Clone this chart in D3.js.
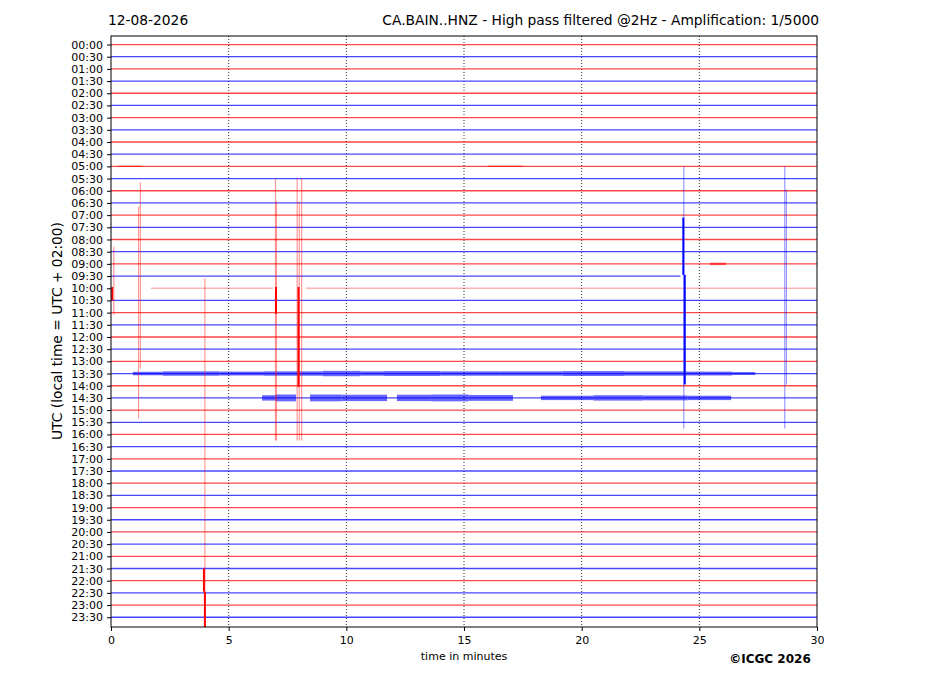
<!DOCTYPE html>
<html>
<head>
<meta charset="utf-8">
<script src="https://cdn.jsdelivr.net/npm/d3@7"></script>
<style>
  body { margin: 0; background: #fff; }
  text { font-family: "DejaVu Sans", sans-serif; }
</style>
</head>
<body>
<script>
// Helicorder - one trace every 30 minutes

const traceLabels = ["00:00","00:30","01:00","01:30","02:00","02:30","03:00","03:30",
  "04:00","04:30","05:00","05:30","06:00","06:30","07:00","07:30","08:00","08:30",
  "09:00","09:30","10:00","10:30","11:00","11:30","12:00","12:30","13:00","13:30",
  "14:00","14:30","15:00","15:30","16:00","16:30","17:00","17:30","18:00","18:30",
  "19:00","19:30","20:00","20:30","21:00","21:30","22:00","22:30","23:00","23:30"];
const minuteTicks = [0, 5, 10, 15, 20, 25, 30];
const gridMinutes = [5, 10, 15, 20, 25];

// data gaps: trace index -> recorded spans [start, end] (minutes)
const dataSpans = {19: [[0, 24.2]], 20: [[1.7, 6.88], [8.29, 30]]};
const faintTraces = [20];

// noise bursts: [trace, start min, end min, half amplitude (trace units)]
const bursts = [
  [27, 0.93, 2.2, 0.14], [27, 2.2, 4.6, 0.18], [27, 4.6, 6.5, 0.16], [27, 6.5, 9.0, 0.18],
  [27, 9.0, 10.6, 0.22], [27, 10.6, 11.6, 0.18], [27, 11.6, 14.0, 0.2], [27, 14.0, 16.5, 0.18],
  [27, 16.5, 19.2, 0.18], [27, 19.2, 21.8, 0.2], [27, 21.8, 24.3, 0.18], [27, 24.3, 26.4, 0.16],
  [27, 26.4, 27.37, 0.12],
  [29, 6.42, 7.0, 0.22], [29, 7.0, 7.86, 0.28], [29, 8.46, 9.8, 0.28], [29, 9.8, 11.73, 0.26],
  [29, 12.15, 13.6, 0.26], [29, 13.6, 15.2, 0.28], [29, 15.2, 17.08, 0.24],
  [29, 18.27, 20.5, 0.18], [29, 20.5, 22.6, 0.22], [29, 22.6, 24.5, 0.2], [29, 24.5, 26.35, 0.18],
  [18, 25.45, 26.13, 0.1], [10, 0.3, 1.3, 0.05], [10, 16.0, 17.5, 0.05]
];

// spikes: [minute, top (trace units), bottom (trace units), color, strong]
const spikes = [
  [0.12, 16.6, 22.2, "r", 0], [0.05, 19.9, 21.0, "r", 1],
  [1.17, 13.3, 30.7, "r", 0], [1.25, 11.3, 26.6, "r", 0],
  [3.99, 19.2, 48, "r", 0], [3.95, 43.0, 44.9, "r", 1], [3.99, 44.9, 48, "r", 1],
  [6.99, 11.0, 32.5, "r", 0], [7.03, 12.9, 32.5, "r", 0], [7.01, 19.9, 22.1, "r", 1],
  [7.91, 11.0, 32.5, "r", 0], [8.0, 12.9, 32.5, "r", 0], [8.1, 11.0, 32.5, "r", 0],
  [7.97, 19.9, 28.1, "r", 1],
  [24.34, 10.0, 31.5, "b", 0], [24.32, 14.2, 18.9, "b", 1], [24.38, 18.9, 27.9, "b", 1],
  [28.63, 10.0, 31.5, "b", 0], [28.7, 11.9, 27.9, "b", 0]
];

const W = 927, H = 696;
const pLeft = 111, pRight = 817, pTop = 36, pBottom = 627;

const svg = d3.select("body").append("svg")
  .attr("width", W).attr("height", H);

const x = d3.scaleLinear().domain([0, 30]).range([pLeft, pRight]);
const y = d3.scaleLinear().domain([-0.7, 47.8]).range([pTop, pBottom]);
const colorOf = c => c === "r" ? "#ff0000" : "#0000ff";
const traceColor = i => i % 2 === 0 ? "r" : "b";

svg.append("defs").append("clipPath").attr("id", "plotclip")
  .append("rect").attr("x", pLeft).attr("y", pTop)
  .attr("width", pRight - pLeft).attr("height", pBottom - pTop);

const plot = svg.append("g").attr("clip-path", "url(#plotclip)");

// grid
plot.selectAll(".grid").data(gridMinutes).join("line")
  .attr("x1", d => x(d)).attr("x2", d => x(d))
  .attr("y1", pTop).attr("y2", pBottom)
  .attr("stroke", "#000").attr("stroke-width", 0.8)
  .attr("stroke-dasharray", "1,2");

// base traces
const segs = [];
traceLabels.forEach((lab, i) => {
  (dataSpans[i] || [[0, 30]]).forEach(s => segs.push({i, s}));
});
plot.selectAll(".trace").data(segs).join("line")
  .attr("x1", d => x(d.s[0])).attr("x2", d => x(d.s[1]))
  .attr("y1", d => y(d.i)).attr("y2", d => y(d.i))
  .attr("stroke", d => colorOf(traceColor(d.i)))
  .attr("stroke-width", 1.3)
  .attr("stroke-opacity", d => faintTraces.includes(d.i) ? 0.3 : 0.72);

// noise bursts
plot.selectAll(".burst").data(bursts).join("rect")
  .attr("x", d => x(d[1])).attr("width", d => x(d[2]) - x(d[1]))
  .attr("y", d => y(d[0] - d[3])).attr("height", d => y(d[0] + d[3]) - y(d[0] - d[3]))
  .attr("fill", d => colorOf(traceColor(d[0])))
  .attr("fill-opacity", 0.6);

// spikes
plot.selectAll(".spike").data(spikes).join("line")
  .attr("x1", d => x(d[0])).attr("x2", d => x(d[0]))
  .attr("y1", d => y(d[1])).attr("y2", d => y(d[2]))
  .attr("stroke", d => colorOf(d[3]))
  .attr("stroke-width", d => d[4] ? 2 : 1.2)
  .attr("stroke-opacity", d => d[4] ? 1 : 0.4);

// frame
svg.append("rect").attr("x", pLeft).attr("y", pTop)
  .attr("width", pRight - pLeft).attr("height", pBottom - pTop)
  .attr("fill", "none").attr("stroke", "#000").attr("stroke-width", 1);

// axes
const yAxis = d3.axisLeft(y).tickValues(d3.range(traceLabels.length))
  .tickFormat(i => traceLabels[i]).tickSize(4).tickPadding(4);
const gy = svg.append("g").attr("transform", `translate(${pLeft},0)`).call(yAxis);
gy.select(".domain").remove();
gy.selectAll("text").attr("font-size", 11).attr("fill", "#000")
  .attr("font-family", "DejaVu Sans");

const xAxis = d3.axisBottom(x).tickValues(minuteTicks).tickSize(4).tickPadding(5);
const gx = svg.append("g").attr("transform", `translate(0,${pBottom})`).call(xAxis);
gx.select(".domain").remove();
gx.selectAll("text").attr("font-size", 11).attr("fill", "#000")
  .attr("font-family", "DejaVu Sans");

// titles
svg.append("text").attr("x", 108).attr("y", 25)
  .attr("font-size", 13.8).text("12-08-2026");
svg.append("text").attr("x", 819).attr("y", 25).attr("text-anchor", "end")
  .attr("font-size", 13.8)
  .text("CA.BAIN..HNZ - High pass filtered @2Hz - Amplification: 1/5000");
svg.append("text").attr("x", 464).attr("y", 660).attr("text-anchor", "middle")
  .attr("font-size", 11).text("time in minutes");
svg.append("text").attr("transform", "translate(62,331) rotate(-90)")
  .attr("text-anchor", "middle").attr("font-size", 13.8)
  .text("UTC (local time = UTC + 02:00)");
svg.append("text").attr("x", 770).attr("y", 663).attr("text-anchor", "middle")
  .attr("font-size", 12).attr("font-weight", "bold")
  .attr("font-family", "Liberation Sans, Arial, sans-serif")
  .text("©ICGC 2026");
</script>
</body>
</html>
